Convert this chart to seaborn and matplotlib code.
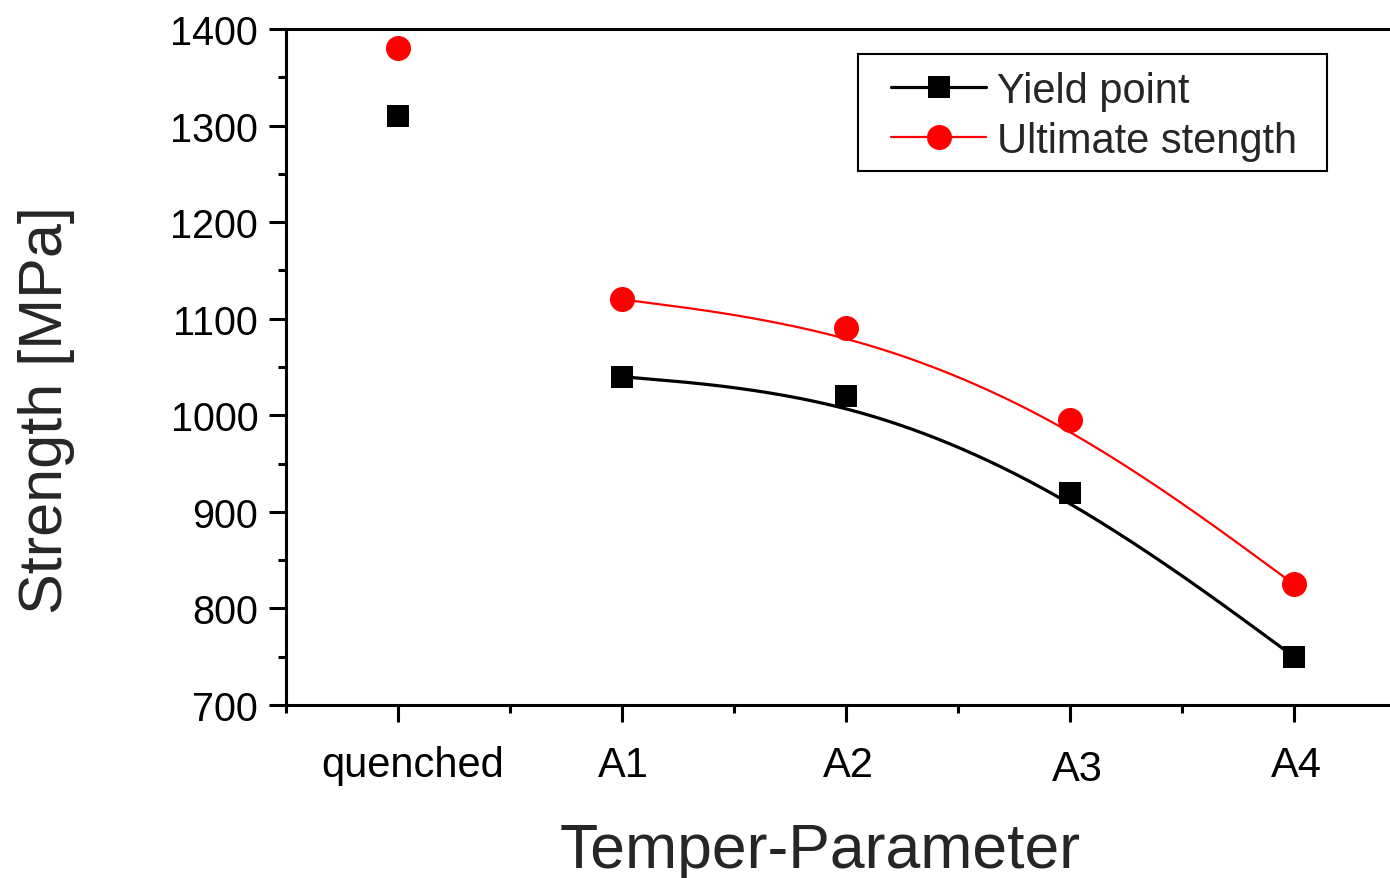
import numpy as np
import pandas as pd
import matplotlib
matplotlib.use("Agg")
import matplotlib.pyplot as plt
import matplotlib.transforms as mtransforms
from matplotlib.lines import Line2D
from matplotlib.patches import Rectangle
from matplotlib.ticker import MultipleLocator, FixedLocator
import seaborn as sns

categories = ["quenched", "A1", "A2", "A3", "A4"]
yield_vals = [1310, 1040, 1020, 920, 750]
ultimate_vals = [1380, 1120, 1090, 995, 825]
y_ticks = [700, 800, 900, 1000, 1100, 1200, 1300, 1400]

sns.set_style("ticks")
plt.rcParams["font.family"] = ["Liberation Sans", "DejaVu Sans"]


def bspline(xs, ys, n=200):
    # uniform cubic B-spline, end control points tripled (passes through ends)
    px = np.concatenate([[xs[0]] * 2, xs, [xs[-1]] * 2]).astype(float)
    py = np.concatenate([[ys[0]] * 2, ys, [ys[-1]] * 2]).astype(float)
    outx, outy = [], []
    for i in range(len(px) - 3):
        t = np.linspace(0, 1, n)
        b0 = (1 - t) ** 3 / 6
        b1 = (3 * t ** 3 - 6 * t ** 2 + 4) / 6
        b2 = (-3 * t ** 3 + 3 * t ** 2 + 3 * t + 1) / 6
        b3 = t ** 3 / 6
        outx.append(b0 * px[i] + b1 * px[i + 1] + b2 * px[i + 2] + b3 * px[i + 3])
        outy.append(b0 * py[i] + b1 * py[i + 1] + b2 * py[i + 2] + b3 * py[i + 3])
    return np.concatenate(outx), np.concatenate(outy)


xpos = np.arange(len(categories))
df = pd.DataFrame({"x": xpos, "cat": categories, "yield": yield_vals, "ult": ultimate_vals})

fig = plt.figure(figsize=(13.9, 8.79), dpi=100)
ax = fig.add_axes([286 / 1390, 1 - 706 / 879, 1120 / 1390, 676 / 879])

cx, cy = bspline(xpos[1:], np.array(yield_vals[1:]))
sns.lineplot(x=cx, y=cy, sort=False, estimator=None, color="black", lw=2.3, ax=ax)
cx2, cy2 = bspline(xpos[1:], np.array(ultimate_vals[1:]))
sns.lineplot(x=cx2, y=cy2, sort=False, estimator=None, color="#ff0000", lw=1.6, ax=ax)

ax.plot(df["x"], df["yield"], ls="none", marker="s", ms=16.5, mfc="black", mec="black", mew=0, zorder=5)
ax.plot(df["x"], df["ult"], ls="none", marker="o", ms=18, mfc="#ff0000", mec="#ff0000", mew=0, zorder=5)

ax.set_xlim(-0.5, 4.5)
ax.set_ylim(700, 1400)
ax.set_xticks(xpos)
ax.set_xticklabels(categories)
ax.xaxis.set_minor_locator(FixedLocator(np.arange(-0.5, 4.6, 1.0)))
ax.set_yticks(y_ticks)
ax.yaxis.set_minor_locator(MultipleLocator(50))

for s in ["left", "top", "bottom"]:
    ax.spines[s].set_linewidth(2.2)
    ax.spines[s].set_color("black")
ax.spines["right"].set_visible(False)

ax.tick_params(axis="both", which="major", direction="out", length=12, width=2.2,
               color="black", labelcolor="black")
ax.tick_params(axis="both", which="minor", direction="out", length=6, width=2.2, color="black")
ax.tick_params(axis="y", which="major", pad=8, labelsize=28.5)
ax.tick_params(axis="x", which="major", pad=16.5, labelsize=30)
ax.tick_params(top=False, right=False, which="both")

# small per-label shifts seen in the reference (pixels)
shifts = [(15, 0), (1, 0), (2, 0), (7, -4), (2, 0)]
for lab, (dx, dy) in zip(ax.get_xticklabels(), shifts):
    lab.set_transform(lab.get_transform() +
                      mtransforms.ScaledTranslation(dx / 100, dy / 100, fig.dpi_scale_trans))

ax.set_xlabel("Temper-Parameter", fontsize=45)
ax.set_ylabel("Strength [MPa]", fontsize=44)
ax.xaxis.set_label_coords((820 - 286) / 1120, -0.172)
ax.yaxis.set_label_coords(-0.188, (706 - 410) / 676)

handles = [
    Line2D([], [], color="black", lw=2.3, marker="s", ms=16.5, mfc="black", mec="black", mew=0),
    Line2D([], [], color="#ff0000", lw=1.6, marker="o", ms=18, mfc="#ff0000", mec="#ff0000", mew=0),
]
leg = ax.legend(handles, ["Yield point", "Ultimate stength"], loc="center left",
                bbox_to_anchor=(891 / 1390, 1 - 117 / 879), bbox_transform=fig.transFigure,
                fontsize=30, frameon=False,
                handlelength=2.28, handletextpad=0.26, borderpad=0, labelspacing=0.24,
                borderaxespad=0)
fig.patches.append(Rectangle((858 / 1390, 1 - 172 / 879), (1327 - 858) / 1390, (172 - 55) / 879,
                             transform=fig.transFigure, fill=False, edgecolor="black",
                             lw=1.5, zorder=10))

fig.savefig("out.png", dpi=100)
